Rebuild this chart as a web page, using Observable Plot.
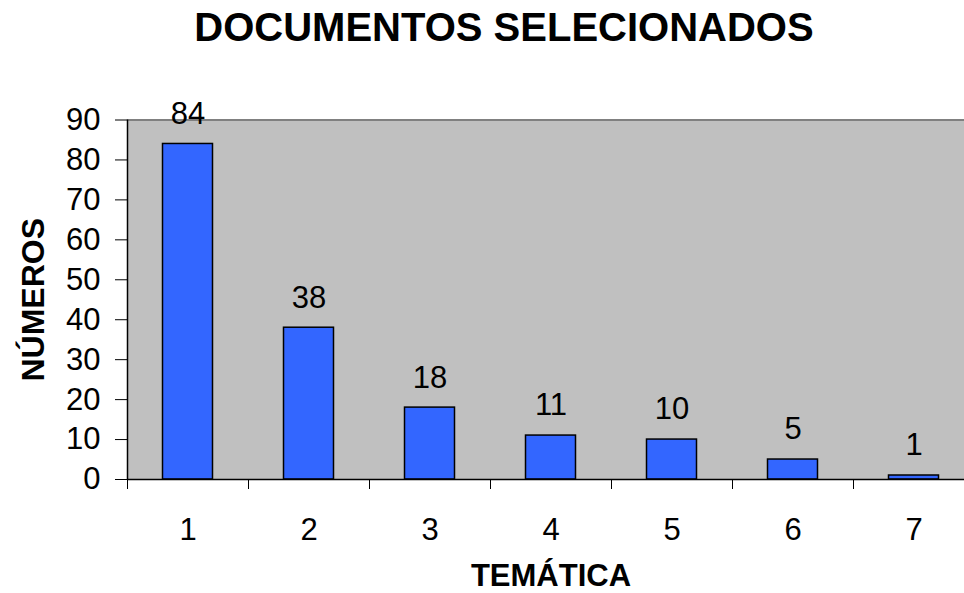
<!DOCTYPE html>
<html><head><meta charset="utf-8">
<script src="https://cdn.jsdelivr.net/npm/d3@7"></script>
<script src="https://cdn.jsdelivr.net/npm/@observablehq/plot@0.6"></script>
<style>
body{margin:0;background:#fff;font-family:"Liberation Sans",Arial,sans-serif;}
#title{width:920px;margin-left:44px;height:60px;line-height:54px;text-align:center;font-size:40px;font-weight:bold;color:#000;}
</style></head><body>
<div id="title">DOCUMENTOS SELECIONADOS</div>
<div id="chart"></div>
<script>
const categories = ["1","2","3","4","5","6","7"];
const values = [84,38,18,11,10,5,1];
const yTicks = [0,10,20,30,40,50,60,70,80,90];
const data = categories.map((c,i)=>({tema:c, n: values[i]}));
const plot = Plot.plot({
  width: 964, height: 533,
  marginTop: 59.5, marginBottom: 114, marginLeft: 127, marginRight: 0,
  style: {fontFamily: "Liberation Sans, Arial, sans-serif", background: "white", color: "black"},
  x: {type: "band", domain: categories, range: [127, 974], padding: 0},
  y: {domain: [0, 90], range: [419, 59.5]},
  marks: [
    Plot.frame({fill: "#c0c0c0", stroke: null}),
    Plot.ruleY([90], {stroke: "#808080", strokeWidth: 2}),
    Plot.barY(data, {x: "tema", y: "n", fill: "#3366ff", stroke: "black", strokeWidth: 1.5, insetLeft: 35.5, insetRight: 35.5}),
    Plot.text(data, {x: "tema", y: "n", text: d => String(d.n), dy: -30, fontSize: 31, fill: "black"}),
    Plot.ruleY([0], {stroke: "black", strokeWidth: 1.5}),
    Plot.ruleX([categories[0]], {y1: 0, y2: 90, dx: -60.5, stroke: "black", strokeWidth: 1.5}),
    Plot.axisX({ticks: categories, tickSize: 10, tickFormat: () => "", dx: -60.5, label: null, stroke: "black"}),
    Plot.axisX({tickSize: 0, tickPadding: 38, fontSize: 31, label: null}),
    Plot.axisY({ticks: yTicks, tickSize: 12, tickPadding: 15, fontSize: 31, label: null}),
    Plot.text(["TEMÁTICA"], {frameAnchor: "bottom", lineAnchor: "middle", textAnchor: "middle", dx: 5, dy: 97, fontSize: 31, fontWeight: "bold"}),
    Plot.text(["NÚMEROS"], {frameAnchor: "left", lineAnchor: "middle", textAnchor: "middle", dx: -94, rotate: -90, fontSize: 32, fontWeight: "bold"})
  ]
});
document.getElementById("chart").appendChild(plot);
</script>
</body></html>
